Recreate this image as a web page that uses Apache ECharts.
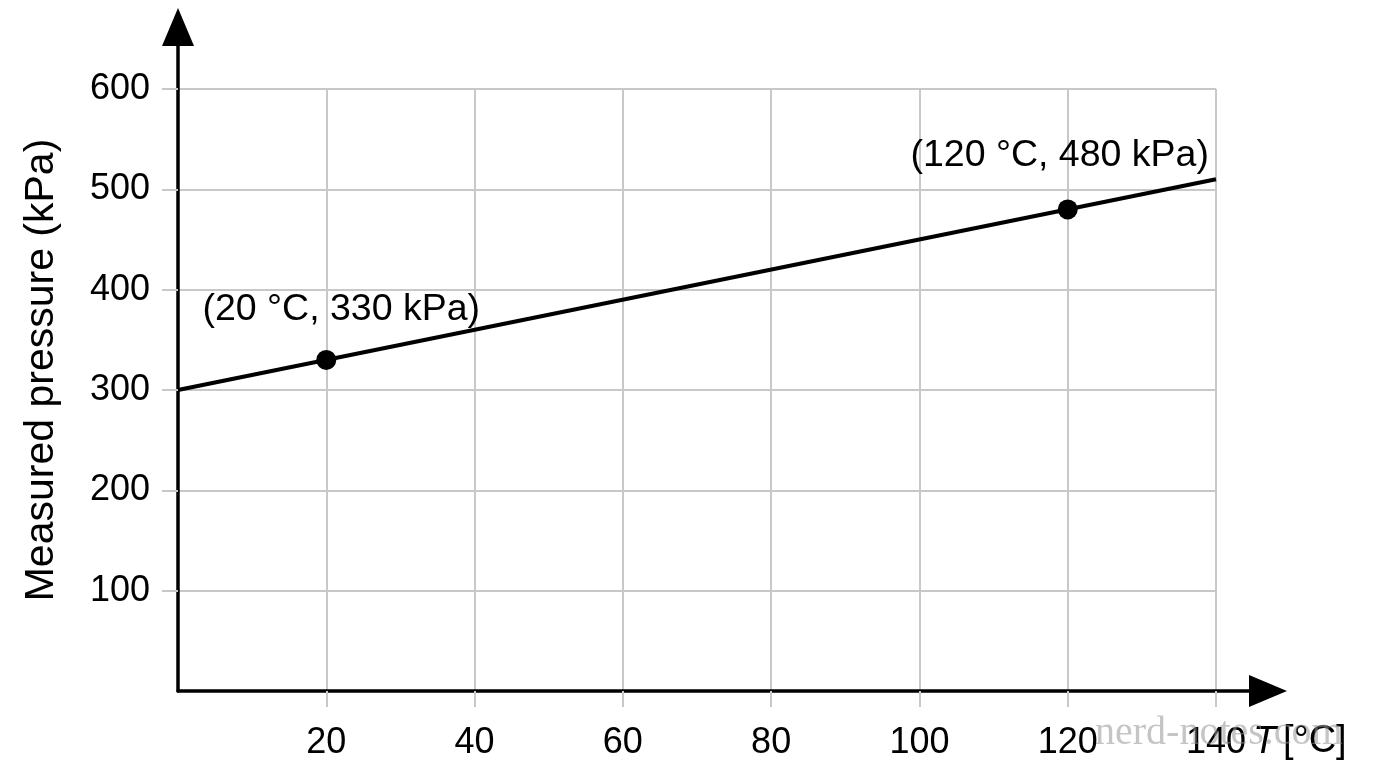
<!DOCTYPE html>
<html><head><meta charset="utf-8">
<script src="https://cdn.jsdelivr.net/npm/echarts@6/dist/echarts.min.js"></script>
<style>html,body{margin:0;padding:0;background:#fff}#c{width:1376px;height:768px}</style>
</head><body><div id="c"></div>
<script>
const xTicks = [20, 40, 60, 80, 100, 120, 140];
const yTicks = [100, 200, 300, 400, 500, 600];
const lineData = [[0, 300], [140, 510]];
const pointData = [[20, 330], [120, 480]];
const pointLabels = ['(20 °C, 330 kPa)', '(120 °C, 480 kPa)'];
const yName = 'Measured pressure (kPa)';

const FONT = '"Liberation Sans", Arial, sans-serif';
const GRID = '#c8c8c8';
const chart = echarts.init(document.getElementById('c'));
chart.setOption({
  backgroundColor: '#fff',
  animation: false,
  grid: [
    {left: 178, right: 160, top: 89, bottom: 77},
    {left: 178, right: 108, top: 27, bottom: 77}
  ],
  xAxis: [
    {type: 'value', gridIndex: 0, min: 0, max: 140, interval: 20,
     axisLine: {show: false},
     axisTick: {show: true, length: 16, customValues: xTicks, lineStyle: {color: GRID, width: 2}},
     axisLabel: {customValues: xTicks, margin: 34, color: '#000', fontSize: 36, fontFamily: FONT},
     splitLine: {show: true, lineStyle: {color: GRID, width: 2}}},
    {type: 'value', gridIndex: 1, min: 0, max: 1,
     axisLine: {show: true, symbol: ['none', 'triangle'], symbolSize: [32, 38], lineStyle: {color: '#000', width: 3.5}},
     axisTick: {show: false}, axisLabel: {show: false}, splitLine: {show: false}}
  ],
  yAxis: [
    {type: 'value', gridIndex: 0, min: 0, max: 600, interval: 100,
     axisLine: {show: false},
     axisTick: {show: true, length: 16, customValues: yTicks, lineStyle: {color: GRID, width: 2}},
     axisLabel: {customValues: yTicks, margin: 28, color: '#000', fontSize: 36, fontFamily: FONT},
     splitLine: {show: true, lineStyle: {color: GRID, width: 2}}},
    {type: 'value', gridIndex: 1, min: 0, max: 1,
     axisLine: {show: true, symbol: ['none', 'triangle'], symbolSize: [32, 38], lineStyle: {color: '#000', width: 3.5}},
     axisTick: {show: false}, axisLabel: {show: false}, splitLine: {show: false}}
  ],
  series: [
    {type: 'line', xAxisIndex: 0, yAxisIndex: 0, data: lineData, symbol: 'none',
     lineStyle: {color: '#000', width: 4}, z: 5},
    {type: 'scatter', xAxisIndex: 0, yAxisIndex: 0, symbolSize: 20, z: 6,
     itemStyle: {color: '#000', opacity: 1},
     emphasis: {disabled: true},
     data: pointData.map((p, i) => ({
       value: p,
       label: {show: true, position: 'top', distance: 21, offset: i === 0 ? [15, 0] : [-8, -4],
               formatter: pointLabels[i], color: '#000', opacity: 1, fontSize: 37.5, fontFamily: FONT}
     }))}
  ],
  graphic: [
    {type: 'text', x: 42, y: 370, rotation: Math.PI / 2,
     style: {text: yName, fill: '#000', font: '41px ' + FONT, align: 'center', verticalAlign: 'middle'}},
    {type: 'text', x: 1253, y: 742,
     style: {rich: {i: {fontStyle: 'italic', fontSize: 38, fontFamily: FONT, fill: '#000'},
                    n: {fontSize: 38, fontFamily: FONT, fill: '#000'}},
             text: '{i|T}  {n|[°C]}', verticalAlign: 'middle'}},
    {type: 'text', x: 1095, y: 733, z: 100,
     style: {text: 'nerd-notes.com', fill: 'rgba(150,150,150,0.55)', font: '40px "Liberation Serif", serif', verticalAlign: 'middle'}}
  ]
});
</script></body></html>
